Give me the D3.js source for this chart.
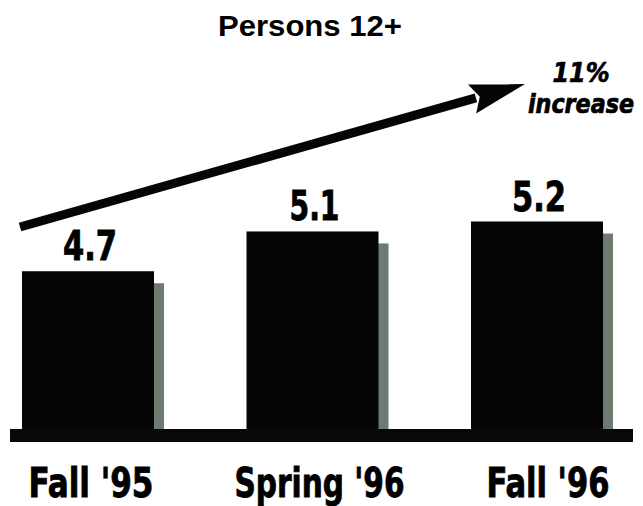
<!DOCTYPE html>
<html>
<head>
<meta charset="utf-8">
<script src="https://cdn.jsdelivr.net/npm/d3@7"></script>
<style>
  html, body { margin: 0; padding: 0; background: #fff; }
  svg { display: block; }
  .cond { font-family: "Liberation Sans Narrow", "Arial Narrow", "DejaVu Sans Condensed", sans-serif; font-weight: bold; }
</style>
</head>
<body>
<svg id="chart" width="643" height="506"></svg>
<script>
// ---- data ----
const categories = ["Fall '95", "Spring '96", "Fall '96"];
const values = [4.7, 5.1, 5.2];
const valueLabels = ["4.7", "5.1", "5.2"];
const title = "Persons 12+";
const annotationLines = ["11%", "increase"];

// ---- layout ----
const W = 643, H = 506;
const baseY = 429;
const svg = d3.select("#chart");

const x = d3.scaleBand().domain(categories).range([22, 603]).paddingInner(0.412).paddingOuter(0);
const xLabel = d3.scalePoint().domain(categories).range([91, 548]);
const y = d3.scaleLinear().domain([3.114, 5.2]).range([baseY, baseY - 207.5]);

const labelWidths = [125, 170, 123];
const valueWidths = [54, 50, 54];

// shadows
svg.append("g").selectAll("rect").data(values).join("rect")
  .attr("x", (d, i) => x(categories[i]) + 10)
  .attr("y", d => y(d) + 12)
  .attr("width", x.bandwidth())
  .attr("height", d => baseY - y(d) - 12)
  .attr("fill", "#6f7b70");

// bars
svg.append("g").selectAll("rect").data(values).join("rect")
  .attr("x", (d, i) => x(categories[i]))
  .attr("y", d => y(d))
  .attr("width", x.bandwidth())
  .attr("height", d => baseY - y(d))
  .attr("fill", "#050505");

// baseline
svg.append("rect").attr("x", 10).attr("y", baseY).attr("width", 623).attr("height", 13).attr("fill", "#080808");

// value labels
svg.append("g").selectAll("text").data(values).join("text")
  .attr("class", "cond")
  .attr("x", (d, i) => x(categories[i]) + x.bandwidth() / 2 + 2)
  .attr("y", d => y(d) - 11)
  .attr("text-anchor", "middle")
  .attr("font-size", 40)
  .attr("textLength", (d, i) => valueWidths[i])
  .attr("lengthAdjust", "spacingAndGlyphs")
  .attr("fill", "#000").attr("stroke", "#000").attr("stroke-width", 0.8)
  .text((d, i) => valueLabels[i]);

// category labels
svg.append("g").selectAll("text").data(categories).join("text")
  .attr("class", "cond")
  .attr("x", d => xLabel(d))
  .attr("y", 497)
  .attr("text-anchor", "middle")
  .attr("font-size", 40)
  .attr("textLength", (d, i) => labelWidths[i])
  .attr("lengthAdjust", "spacingAndGlyphs")
  .attr("fill", "#000").attr("stroke", "#000").attr("stroke-width", 0.8)
  .text(d => d);

// title
svg.append("text")
  .attr("x", 310).attr("y", 36)
  .attr("text-anchor", "middle")
  .attr("font-family", "Liberation Sans, Arial, sans-serif")
  .attr("font-weight", "bold")
  .attr("font-size", 30)
  .attr("textLength", 184)
  .attr("lengthAdjust", "spacingAndGlyphs")
  .attr("fill", "#000")
  .text(title);

// arrow
const start = [20, 227], tip = [525, 84];
const dx = tip[0] - start[0], dy = tip[1] - start[1];
const len = Math.hypot(dx, dy);
const u = [dx / len, dy / len], n = [-u[1], u[0]];
const headLen = 55, headHalf = 15;
const base = [tip[0] - headLen * u[0], tip[1] - headLen * u[1]];
svg.append("line")
  .attr("x1", start[0]).attr("y1", start[1])
  .attr("x2", base[0] + 4 * u[0]).attr("y2", base[1] + 4 * u[1])
  .attr("stroke", "#050505").attr("stroke-width", 9);
svg.append("path")
  .attr("d", d3.line()([
    tip,
    [base[0] + headHalf * n[0], base[1] + headHalf * n[1]],
    [base[0] + 8 * u[0], base[1] + 8 * u[1]],
    [base[0] - headHalf * n[0], base[1] - headHalf * n[1]]
  ]) + "Z")
  .attr("fill", "#050505");

// annotation
const annoW = [57, 106];
svg.append("g").selectAll("text").data(annotationLines).join("text")
  .attr("class", "cond")
  .attr("font-style", "italic")
  .attr("x", 581)
  .attr("y", (d, i) => 82 + i * 31)
  .attr("text-anchor", "middle")
  .attr("font-size", 27)
  .attr("textLength", (d, i) => annoW[i])
  .attr("lengthAdjust", "spacingAndGlyphs")
  .attr("fill", "#000").attr("stroke", "#000").attr("stroke-width", 0.7)
  .text(d => d);
</script>
</body>
</html>
